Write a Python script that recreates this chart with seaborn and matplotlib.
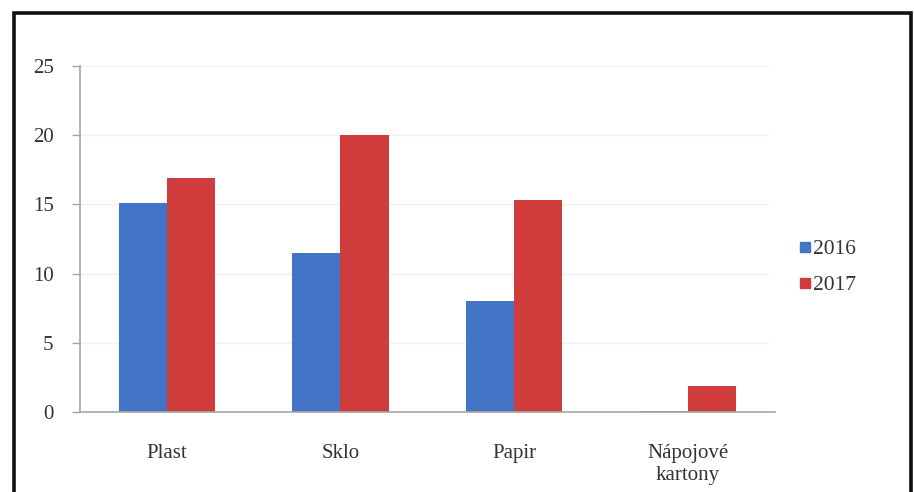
import seaborn as sns
import matplotlib.pyplot as plt
import pandas as pd
from matplotlib.patches import Rectangle
from matplotlib.lines import Line2D

kategorie = ['Plast', 'Sklo', 'Papir', 'Nápojové\nkartony']
roky = ['2016', '2017']
hodnoty_2016 = [15.1, 11.5, 8.0, 0.1]
hodnoty_2017 = [16.9, 20.0, 15.3, 1.9]
barvy = ['#4275c6', '#d03b3c']

df = pd.DataFrame({
    'kategorie': kategorie * 2,
    'rok': [roky[0]] * 4 + [roky[1]] * 4,
    'hodnota': hodnoty_2016 + hodnoty_2017,
})

sns.set_style('white')
plt.rcParams['font.family'] = ['Liberation Serif', 'DejaVu Serif']

fig = plt.figure(figsize=(9.14, 4.92), dpi=100)
ax = fig.add_axes([0.0875, 0.1626, 0.760, 0.703])

sns.barplot(data=df, x='kategorie', y='hodnota', hue='rok', order=kategorie,
            palette=barvy, width=0.555, gap=0, saturation=1, linewidth=0,
            legend=False, ax=ax)

ax.set_xlim(-0.5, 3.5)
ax.set_ylim(0, 25)
ax.set_yticks([0, 5, 10, 15, 20, 25])
ax.set_xlabel('')
ax.set_ylabel('')

# slabé vodorovné mřížky
for y in [5, 10, 15, 20, 25]:
    ax.axhline(y, xmin=0, xmax=0.99, color='#f0f0f0', linewidth=1, zorder=0)

for s in ['top', 'right']:
    ax.spines[s].set_visible(False)
for s in ['left', 'bottom']:
    ax.spines[s].set_color('#a6a6a6')
    ax.spines[s].set_linewidth(1.2)

ax.set_xticks([-0.5, 0.5, 1.5, 2.5, 3.5], minor=True)
ax.tick_params(axis='x', which='major', length=0, pad=23, labelsize=15, labelcolor='#333333')
ax.tick_params(axis='x', which='minor', length=6, width=1, color='#a6a6a6', direction='out')
ax.tick_params(axis='y', length=6, width=1, color='#a6a6a6', direction='out', pad=13,
               labelsize=15, labelcolor='#333333', left=True)
for t in ax.get_xticklabels():
    t.set_verticalalignment('top')

handles = [Line2D([0], [0], marker='s', linestyle='', markersize=7,
                  markerfacecolor=b, markeredgecolor=b) for b in barvy]
fig.legend(handles, roky, loc='center left', bbox_to_anchor=(0.853, 0.457),
           frameon=False, fontsize=15.5, handletextpad=0.05, handlelength=0.6,
           labelspacing=0.75, labelcolor='#333333')

# rámeček kolem grafu
fig.patches.append(Rectangle((0.0158, -0.1), 0.9809, 1.0736, transform=fig.transFigure,
                             fill=False, edgecolor='#111111', linewidth=2.6))

fig.savefig('out.png', dpi=100)
